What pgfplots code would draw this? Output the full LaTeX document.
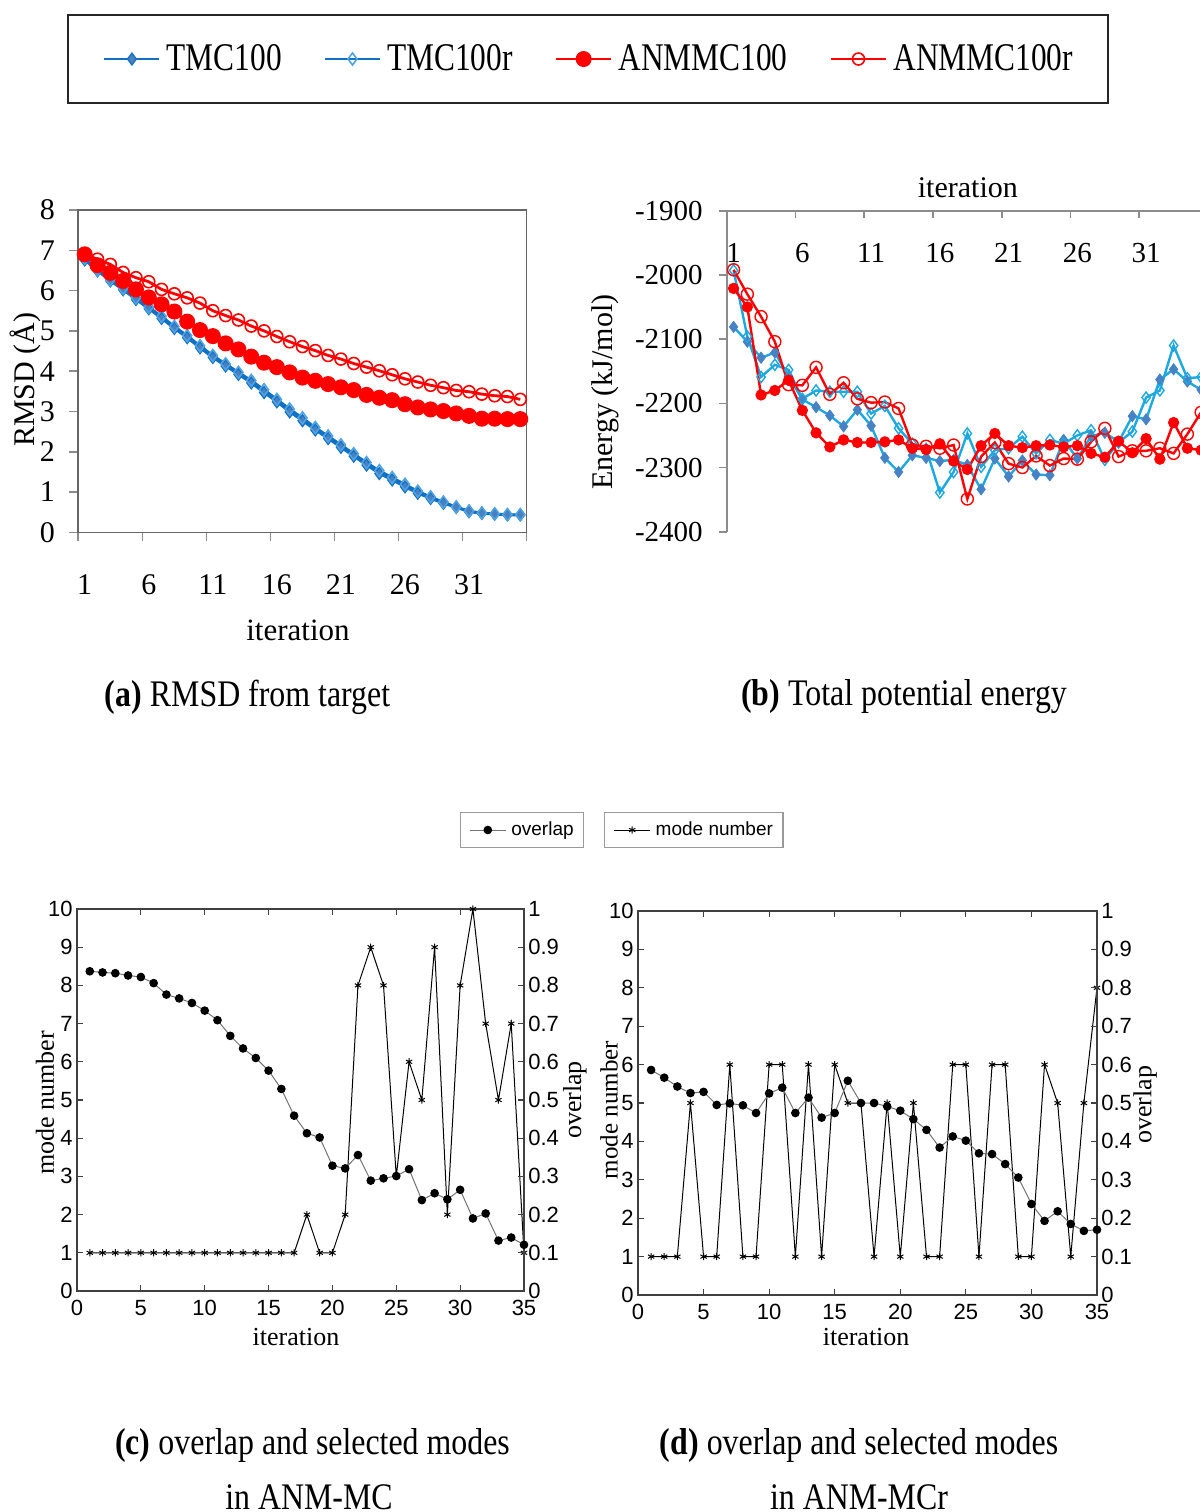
\documentclass[border=0pt]{standalone}
\usepackage{fontspec}
\setmainfont{Liberation Serif}
\setsansfont{Liberation Sans}
\newfontfamily\tallserif{Liberation Serif}[FakeStretch=0.8]
\newfontfamily\capserif{Liberation Serif}[FakeStretch=0.85]
\usepackage{graphicx}
\usepackage{pgfplots}
\usepackage{pgfplotstable}
\pgfplotsset{compat=1.18}

\definecolor{tblue}{HTML}{1070C4}
\definecolor{tmark}{HTML}{4A80C0}
\definecolor{tlight}{HTML}{4FA3E3}
\definecolor{cyanl}{HTML}{1EA8E0}
\definecolor{cmark}{HTML}{4682C4}
\definecolor{axgray}{HTML}{8C8C8C}

\newcommand\fs[1]{\fontsize{#1}{#1}\selectfont}

\pgfplotstableread{
i tmc tmcr anm anmr
1 6.76 6.80 6.90 6.90
2 6.49 6.52 6.63 6.78
3 6.24 6.27 6.44 6.65
4 6.02 6.05 6.24 6.45
5 5.78 5.82 6.03 6.32
6 5.55 5.59 5.83 6.22
7 5.31 5.36 5.66 6.03
8 5.06 5.11 5.48 5.92
9 4.83 4.88 5.23 5.82
10 4.58 4.63 5.02 5.69
11 4.34 4.39 4.87 5.50
12 4.13 4.18 4.69 5.38
13 3.92 3.97 4.54 5.27
14 3.71 3.77 4.36 5.12
15 3.47 3.54 4.21 5.00
16 3.24 3.30 4.10 4.86
17 2.99 3.06 3.97 4.73
18 2.77 2.84 3.84 4.61
19 2.54 2.60 3.76 4.51
20 2.33 2.39 3.68 4.39
21 2.11 2.17 3.60 4.30
22 1.89 1.95 3.53 4.19
23 1.67 1.73 3.41 4.10
24 1.46 1.53 3.34 4.01
25 1.30 1.36 3.28 3.91
26 1.13 1.19 3.18 3.81
27 0.97 1.02 3.10 3.73
28 0.84 0.88 3.05 3.65
29 0.72 0.75 3.01 3.59
30 0.62 0.63 2.95 3.52
31 0.51 0.53 2.89 3.49
32 0.47 0.48 2.82 3.43
33 0.45 0.46 2.82 3.39
34 0.43 0.44 2.81 3.37
35 0.43 0.44 2.81 3.30
}\rmsd

\pgfplotstableread{
i tmc tmcr anm anmr
1 -2081 -1993 -2021 -1992
2 -2104 -2096 -2050 -2030
3 -2129 -2159 -2187 -2065
4 -2121 -2140 -2180 -2104
5 -2158 -2148 -2164 -2171
6 -2194 -2193 -2211 -2172
7 -2206 -2180 -2246 -2144
8 -2219 -2182 -2268 -2186
9 -2236 -2182 -2257 -2168
10 -2210 -2182 -2261 -2193
11 -2235 -2216 -2261 -2199
12 -2285 -2204 -2260 -2198
13 -2307 -2239 -2257 -2208
14 -2281 -2263 -2270 -2265
15 -2285 -2271 -2272 -2267
16 -2290 -2339 -2263 -2270
17 -2288 -2307 -2290 -2265
18 -2296 -2247 -2303 -2349
19 -2334 -2299 -2266 -2283
20 -2286 -2273 -2247 -2261
21 -2314 -2270 -2266 -2294
22 -2289 -2252 -2269 -2300
23 -2311 -2278 -2266 -2282
24 -2312 -2257 -2265 -2297
25 -2257 -2263 -2268 -2286
26 -2286 -2250 -2266 -2287
27 -2251 -2242 -2278 -2260
28 -2246 -2288 -2284 -2239
29 -2260 -2261 -2259 -2283
30 -2220 -2244 -2277 -2274
31 -2225 -2191 -2255 -2274
32 -2163 -2180 -2287 -2270
33 -2147 -2110 -2230 -2278
34 -2166 -2161 -2270 -2248
35 -2179 -2159 -2273 -2214
}\energy

\pgfplotstableread{
i mc oc md od
1 1 0.837 1 0.586
2 1 0.834 1 0.566
3 1 0.832 1 0.543
4 1 0.826 5 0.526
5 1 0.822 1 0.529
6 1 0.806 1 0.495
7 1 0.776 6 0.499
8 1 0.766 1 0.494
9 1 0.754 1 0.474
10 1 0.734 6 0.525
11 1 0.709 6 0.540
12 1 0.668 1 0.474
13 1 0.635 6 0.514
14 1 0.610 1 0.462
15 1 0.577 6 0.474
16 1 0.529 5 0.558
17 1 0.459 5 0.500
18 2 0.413 1 0.500
19 1 0.402 5 0.491
20 1 0.328 1 0.480
21 2 0.321 5 0.458
22 8 0.356 1 0.430
23 9 0.289 1 0.384
24 8 0.295 6 0.413
25 3 0.301 6 0.402
26 6 0.319 1 0.369
27 5 0.238 6 0.367
28 9 0.256 6 0.341
29 2 0.240 1 0.306
30 8 0.265 1 0.237
31 10 0.190 6 0.193
32 7 0.203 5 0.218
33 5 0.132 1 0.185
34 7 0.140 5 0.167
35 1 0.121 8 0.170
}\modes

\begin{document}
\begin{tikzpicture}
\useasboundingbox (0pt,0pt) rectangle (600pt,-756pt);

% ---------------- (a) RMSD ----------------
\begin{axis}[
  at={(39.15pt,-266.15pt)}, anchor=south west,
  scale only axis, width=224.2pt, height=161.15pt,
  xmin=0.5, xmax=35.5, ymin=0, ymax=8,
  xtick={0.5,5.5,...,35.5}, xticklabels={},
  extra x ticks={1,6,11,16,21,26,31},
  extra x tick labels={1,6,11,16,21,26,31},
  extra x tick style={major tick length=0pt,
     tick label style={anchor=center, yshift=-26.3pt}},
  ytick={0,1,...,8},
  xtick pos=bottom, ytick pos=left,
  tick align=outside, major tick length=4.5pt,
  tick style={axgray, line width=0.8pt},
  axis line style={black!60, line width=0.8pt},
  tick label style={font=\fs{15}},
  /pgf/number format/assume math mode=true,
  yticklabel style={anchor=east, inner sep=0pt, xshift=-7pt},
  xlabel={iteration}, ylabel={RMSD (Å)},
  label style={font=\fs{15.5}},
  xlabel style={at={(axis description cs:0.49,-0.303)}, anchor=center},
  ylabel style={font=\fs{15}, at={(axis description cs:-0.119,0.473)}, anchor=center},
  legend columns=4,
  legend image code/.code={\draw[mark repeat=2,mark phase=2,#1] plot coordinates {(0pt,0pt) (13.75pt,0pt) (27.5pt,0pt)};},
  legend style={at={(axis description cs:1.1367,1.4685)}, anchor=center,
     draw=black!85, line width=1pt, fill=white,
     font=\tallserif\fs{19.6},
     inner xsep=17.5pt, inner ysep=14.5pt,
     nodes={inner sep=0pt},
     /tikz/every odd column/.append style={column sep=3pt},
     /tikz/every even column/.append style={column sep=21pt}},
]
\addplot[tblue, line width=1.3pt, mark=diamond*, mark size=3pt,
  mark options={solid, fill=tmark, draw=tblue, line width=0.6pt}] table[x=i,y=tmc]{\rmsd};
\addplot[tblue, line width=1.3pt, mark=diamond, mark size=3pt,
  mark options={solid, draw=tlight, line width=0.8pt}] table[x=i,y=tmcr]{\rmsd};
\addplot[red, line width=1.4pt, mark=*, mark size=3.3pt,
  mark options={solid, fill=red, draw=red}] table[x=i,y=anm]{\rmsd};
\addplot[red, line width=1.4pt, mark=o, mark size=3pt,
  mark options={solid, draw=red, line width=0.8pt}] table[x=i,y=anmr]{\rmsd};
\legend{TMC100,TMC100r,ANMMC100,ANMMC100r}
\end{axis}

% ---------------- (b) Energy ----------------
\begin{axis}[
  at={(363.35pt,-265.85pt)}, anchor=south west,
  scale only axis, width=240.65pt, height=160.5pt,
  xmin=0.5, xmax=35.5, ymin=-2400, ymax=-1900,
  axis x line*=top, axis y line*=left,
  xtick={0.5,5.5,...,35.5}, xticklabels={},
  extra x ticks={1,6,11,16,21,26,31},
  extra x tick labels={1,6,11,16,21,26,31},
  extra x tick style={major tick length=0pt,
     tick label style={anchor=center, yshift=-21pt}},
  ytick={-2400,-2300,-2200,-2100,-2000,-1900},
  yticklabels={-2400,-2300,-2200,-2100,-2000,-1900},
  tick align=inside, major tick length=3.8pt,
  tick style={axgray, line width=0.8pt},
  y tick style={xshift=-3.8pt},
  axis line style={axgray, line width=0.8pt},
  tick label style={font=\fs{14.5}},
  yticklabel style={anchor=east, inner sep=0pt, xshift=-11.8pt},
  xlabel={iteration}, ylabel={Energy (kJ/mol)},
  label style={font=\fs{15}},
  xlabel style={at={(axis description cs:0.501,1.071)}, anchor=center},
  ylabel style={at={(axis description cs:-0.253,0.435)}, anchor=center},
]
\addplot[cyanl, line width=1.2pt, mark=diamond*, mark size=2.8pt,
  mark options={solid, fill=cmark, draw=cmark, line width=0.4pt}] table[x=i,y=tmc]{\energy};
\addplot[cyanl, line width=1.2pt, mark=diamond, mark size=2.8pt,
  mark options={solid, draw=cyanl, line width=0.7pt}] table[x=i,y=tmcr]{\energy};
\addplot[red, line width=1.2pt, mark=*, mark size=2.2pt,
  mark options={solid, fill=red, draw=red}] table[x=i,y=anm]{\energy};
\addplot[red, line width=1.2pt, mark=o, mark size=3pt,
  mark options={solid, draw=red, line width=0.7pt}] table[x=i,y=anmr]{\energy};
\end{axis}

% ---------------- (c) ----------------
\begin{axis}[
  at={(38.5pt,-645.5pt)}, anchor=south west,
  scale only axis, width=223.5pt, height=191pt,
  xmin=0, xmax=35, ymin=0, ymax=10,
  xtick={0,5,...,35}, ytick={0,1,...,10}, ytick pos=left,
  tick align=inside, major tick length=3pt,
  axis line style={black!75, line width=0.6pt},
  tick style={black!75, line width=0.6pt},
  tick label style={font=\sffamily\fs{11}},
  /pgf/number format/assume math mode=true,
  yticklabel style={anchor=east, inner sep=0pt, xshift=-2pt},
  xticklabel style={anchor=north, inner sep=0pt, yshift=-4.5pt},
  ylabel={mode number}, xlabel={iteration},
  label style={font=\fs{13}},
  ylabel style={at={(axis description cs:-0.0716,0.492)}, anchor=center},
  xlabel style={at={(axis description cs:0.49,-0.12)}, anchor=center},
  legend image code/.code={\draw[mark repeat=2,mark phase=2,#1] plot coordinates {(0pt,0pt) (9pt,0pt) (18pt,0pt)};},
  legend style={at={(axis description cs:1.380,1.2068)}, anchor=center,
     draw=gray!80, line width=0.6pt, fill=white,
     font=\sffamily\fs{9.5}, inner xsep=4.5pt, inner ysep=4pt,
     nodes={inner sep=0.5pt},
     /tikz/every odd column/.append style={column sep=2pt}},
]
\addplot[black, line width=0.5pt, mark=asterisk, mark size=1.8pt,
  mark options={solid, line width=0.5pt}] table[x=i,y=mc]{\modes};
\legend{mode number}
\end{axis}
\begin{axis}[
  at={(38.5pt,-645.5pt)}, anchor=south west,
  scale only axis, width=223.5pt, height=191pt,
  xmin=0, xmax=35, ymin=0, ymax=1,
  axis x line=none, axis y line*=right,
  ytick={0,0.1,0.2,0.3,0.4,0.5,0.6,0.7,0.8,0.9,1},
  tick align=inside, major tick length=3pt,
  axis line style={black!75, line width=0.6pt},
  tick style={black!75, line width=0.6pt},
  tick label style={font=\sffamily\fs{11}},
  /pgf/number format/assume math mode=true,
  yticklabel style={anchor=west, inner sep=0pt, xshift=2pt},
  ylabel={overlap}, label style={font=\fs{13}},
  ylabel style={at={(axis description cs:1.114,0.5)}, anchor=center, rotate=0},
  legend image code/.code={\draw[mark repeat=2,mark phase=2,#1] plot coordinates {(0pt,0pt) (9pt,0pt) (18pt,0pt)};},
  legend style={at={(axis description cs:0.9955,1.2068)}, anchor=center,
     draw=gray!80, line width=0.6pt, fill=white,
     font=\sffamily\fs{9.5}, inner xsep=4.5pt, inner ysep=4pt,
     nodes={inner sep=0.5pt},
     /tikz/every odd column/.append style={column sep=2pt}},
]
\addplot[black!55, line width=0.5pt, mark=*, mark size=1.9pt,
  mark options={solid, fill=black, draw=black}] table[x=i,y=oc]{\modes};
\legend{overlap}
\end{axis}

% ---------------- (d) ----------------
\begin{axis}[
  at={(319pt,-647.5pt)}, anchor=south west,
  scale only axis, width=229.5pt, height=192pt,
  xmin=0, xmax=35, ymin=0, ymax=10,
  xtick={0,5,...,35}, ytick={0,1,...,10}, ytick pos=left,
  tick align=inside, major tick length=3pt,
  axis line style={black!75, line width=0.6pt},
  tick style={black!75, line width=0.6pt},
  tick label style={font=\sffamily\fs{11}},
  /pgf/number format/assume math mode=true,
  yticklabel style={anchor=east, inner sep=0pt, xshift=-2pt},
  xticklabel style={anchor=north, inner sep=0pt, yshift=-4.5pt},
  ylabel={mode number}, xlabel={iteration},
  label style={font=\fs{13}},
  ylabel style={font=\fs{12.5}, at={(axis description cs:-0.063,0.482)}, anchor=center},
  xlabel style={at={(axis description cs:0.497,-0.109)}, anchor=center},
]
\addplot[black, line width=0.5pt, mark=asterisk, mark size=1.8pt,
  mark options={solid, line width=0.5pt}] table[x=i,y=md]{\modes};
\end{axis}
\begin{axis}[
  at={(319pt,-647.5pt)}, anchor=south west,
  scale only axis, width=229.5pt, height=192pt,
  xmin=0, xmax=35, ymin=0, ymax=1,
  axis x line=none, axis y line*=right,
  ytick={0,0.1,0.2,0.3,0.4,0.5,0.6,0.7,0.8,0.9,1},
  tick align=inside, major tick length=3pt,
  axis line style={black!75, line width=0.6pt},
  tick style={black!75, line width=0.6pt},
  tick label style={font=\sffamily\fs{11}},
  /pgf/number format/assume math mode=true,
  yticklabel style={anchor=west, inner sep=0pt, xshift=2pt},
  ylabel={overlap}, label style={font=\fs{13}},
  ylabel style={at={(axis description cs:1.105,0.495)}, anchor=center, rotate=0},
]
\addplot[black!55, line width=0.5pt, mark=*, mark size=1.9pt,
  mark options={solid, fill=black, draw=black}] table[x=i,y=od]{\modes};
\end{axis}

% ---------------- captions ----------------
\node[font=\capserif\fs{18.75}] at (123.75pt,-348.5pt) {\textbf{(a)} RMSD from target};
\node[font=\capserif\fs{18.75}] at (452pt,-348.5pt) {\textbf{(b)} Total potential energy};
\node[font=\capserif\fs{18.75}] at (156.25pt,-722.5pt) {\textbf{(c)} overlap and selected modes};
\node[font=\capserif\fs{18.75}] at (154.5pt,-748.5pt) {in ANM-MC};
\node[font=\capserif\fs{18.75}] at (429.5pt,-722.5pt) {\textbf{(d)} overlap and selected modes};
\node[font=\capserif\fs{18.75}] at (429.5pt,-748.5pt) {in ANM-MCr};
\end{tikzpicture}
\end{document}
